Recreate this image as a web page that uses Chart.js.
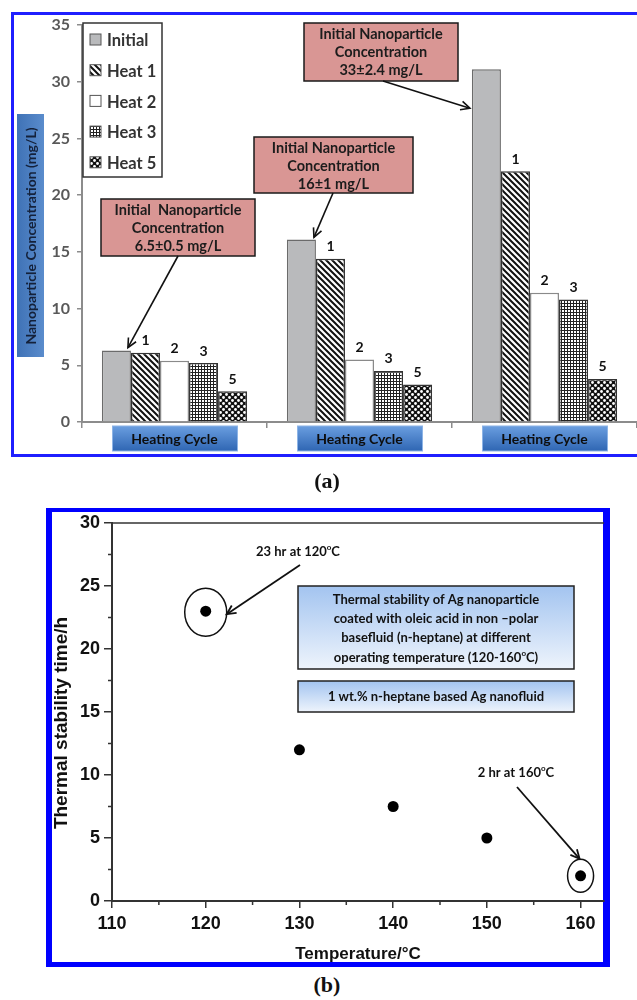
<!DOCTYPE html>
<html>
<head>
<meta charset="utf-8">
<script src="https://cdn.jsdelivr.net/npm/chart.js@4.4.1/dist/chart.umd.min.js"></script>
<style>
  body { margin: 0; background: #fff; }
  #wrap { position: relative; width: 637px; height: 1000px; overflow: hidden; }
  canvas { position: absolute; left: 0; }
  .frameA { position: absolute; left: 11px; top: 12px; width: 700px; height: 445px; box-sizing: border-box;
            border: 3px solid #1f1fff; border-right: none; }
  .frameB { position: absolute; left: 46px; top: 508px; width: 564px; height: 459px; box-sizing: border-box;
            border-style: solid; border-color: #0000ff; border-width: 4px 7px 5px 6px; }
  .cap { position: absolute; left: 277px; width: 100px; text-align: center; line-height: 26px;
         font: bold 22px "Liberation Serif", serif; color: #111; }
</style>
</head>
<body>
<div id="wrap">
  <div class="frameA"></div>
  <canvas id="chartA" width="637" height="470" style="top:0"></canvas>
  <div class="cap" style="top:468px">(a)</div>
  <div class="frameB"></div>
  <canvas id="chartB" width="637" height="470" style="top:500px"></canvas>
  <div class="cap" style="top:972px">(b)</div>
</div>
<script>
// ---- data (a) ----
const groupLabels = ['Heating Cycle', 'Heating Cycle', 'Heating Cycle'];
const seriesNames = ['Initial', 'Heat 1', 'Heat 2', 'Heat 3', 'Heat 5'];
const initialConc = [6.3, 16.1, 31.1];
const heat1Conc = [6.1, 14.4, 22.1];
const heat2Conc = [5.4, 5.5, 11.4];
const heat3Conc = [5.2, 4.5, 10.8];
const heat5Conc = [2.7, 3.3, 3.8];
const cycleTags = ['', '1', '2', '3', '5'];
const noteLines = [
  ['Initial  Nanoparticle', 'Concentration', '6.5±0.5 mg/L'],
  ['Initial Nanoparticle', 'Concentration', '16±1 mg/L'],
  ['Initial Nanoparticle', 'Concentration', '33±2.4 mg/L']
];
const yTitleA = 'Nanoparticle Concentration (mg/L)';

// ---- data (b) ----
const temperatures = [120, 130, 140, 150, 160];
const stabilityHours = [23, 12, 7.5, 5, 2];
const xTitleB = 'Temperature/°C';
const yTitleB = 'Thermal stability time/h';
const calloutB = ['23 hr at 120°C', '2 hr at 160°C'];
const infoLines = ['Thermal stability of Ag nanoparticle', 'coated with oleic acid in non –polar',
                   'basefluid (n-heptane) at different', 'operating temperature (120-160°C)'];
const infoNote = '1 wt.% n-heptane based Ag nanofluid';

Chart.defaults.animation = false;
Chart.defaults.responsive = false;
Chart.defaults.devicePixelRatio = 1;

// hatch fills
function makePattern(kind) {
  const c = document.createElement('canvas');
  const g = c.getContext('2d');
  if (kind === 'stripe') {
    c.width = c.height = 6;
    g.fillStyle = '#fff'; g.fillRect(0, 0, 6, 6);
    g.strokeStyle = '#111'; g.lineWidth = 2;
    g.beginPath();
    g.moveTo(-3, -3); g.lineTo(9, 9);
    g.moveTo(-3, 3); g.lineTo(3, 9);
    g.moveTo(3, -3); g.lineTo(9, 3);
    g.stroke();
  } else if (kind === 'grid') {
    c.width = c.height = 3;
    g.fillStyle = '#fff'; g.fillRect(0, 0, 3, 3);
    g.fillStyle = '#222'; g.fillRect(0, 0, 3, 1); g.fillRect(0, 0, 1, 3);
  } else {
    c.width = c.height = 6;
    g.fillStyle = '#111'; g.fillRect(0, 0, 6, 6);
    g.fillStyle = '#fff';
    g.beginPath(); g.arc(1.5, 1.5, 1.4, 0, Math.PI * 2); g.fill();
    g.beginPath(); g.arc(4.5, 4.5, 1.4, 0, Math.PI * 2); g.fill();
  }
  return g.createPattern(c, 'repeat');
}

const fills = ['#b9babc', makePattern('stripe'), '#ffffff', makePattern('grid'), makePattern('dots')];
const edges = ['#6b6b6b', '#333', '#8a8a8a', '#333', '#333'];

function arrow(ctx, x1, y1, x2, y2) {
  const a = Math.atan2(y2 - y1, x2 - x1), h = 10;
  ctx.beginPath(); ctx.moveTo(x1, y1); ctx.lineTo(x2, y2); ctx.stroke();
  ctx.beginPath();
  ctx.moveTo(x2 - h * Math.cos(a - 0.45), y2 - h * Math.sin(a - 0.45));
  ctx.lineTo(x2, y2);
  ctx.lineTo(x2 - h * Math.cos(a + 0.45), y2 - h * Math.sin(a + 0.45));
  ctx.stroke();
}

// text with the degree sign drawn as a raised small "o"
function richText(ctx, text, cx, cy, size, family) {
  const parts = text.split('°');
  const main = 'bold ' + size + 'px ' + family, sup = 'bold ' + Math.round(size * 0.62) + 'px ' + family;
  ctx.font = main;
  const w = parts.map(p => ctx.measureText(p).width);
  ctx.font = sup;
  const ow = ctx.measureText('o').width;
  let x = cx - (w.reduce((a, b) => a + b, 0) + ow * (parts.length - 1)) / 2;
  ctx.textAlign = 'left'; ctx.textBaseline = 'middle';
  parts.forEach((p, i) => {
    ctx.font = main; ctx.fillText(p, x, cy); x += w[i];
    if (i < parts.length - 1) { ctx.font = sup; ctx.fillText('o', x, cy - size * 0.32); x += ow; }
  });
}

const decorA = {
  id: 'decorA',
  afterDraw(chart) {
    const ctx = chart.ctx, xs = chart.scales.x;
    ctx.save();
    // y title box
    let g = ctx.createLinearGradient(17, 0, 44, 0);
    g.addColorStop(0, '#3f72b6'); g.addColorStop(1, '#5a8ccc');
    ctx.fillStyle = g; ctx.fillRect(17, 114, 27, 243);
    ctx.save();
    ctx.translate(31, 236); ctx.rotate(-Math.PI / 2);
    ctx.fillStyle = '#14213a'; ctx.font = 'bold 14px Lato';
    ctx.textAlign = 'center'; ctx.textBaseline = 'middle';
    ctx.fillText(yTitleA, 0, 0);
    ctx.restore();

    // category boxes
    groupLabels.forEach((lab, i) => {
      const cx = xs.getPixelForValue(i);
      const gg = ctx.createLinearGradient(0, 426, 0, 451);
      gg.addColorStop(0, '#6a9ee0'); gg.addColorStop(1, '#2f66b3');
      ctx.fillStyle = gg; ctx.fillRect(cx - 62, 426, 125, 25);
      ctx.strokeStyle = '#8db4e6'; ctx.lineWidth = 1; ctx.strokeRect(cx - 62, 426, 125, 25);
      ctx.fillStyle = '#0d0d0d'; ctx.font = 'bold 14px Lato';
      ctx.textAlign = 'center'; ctx.textBaseline = 'middle';
      ctx.fillText(lab, cx, 439.5);
    });

    // bar labels
    ctx.fillStyle = '#111'; ctx.font = 'bold 14px Lato';
    ctx.textAlign = 'center'; ctx.textBaseline = 'bottom';
    for (let d = 1; d < seriesNames.length; d++) {
      chart.getDatasetMeta(d).data.forEach(b => ctx.fillText(cycleTags[d], b.x, b.y - 5));
    }

    // legend
    ctx.fillStyle = '#fff'; ctx.fillRect(83, 23, 79, 154);
    ctx.strokeStyle = '#333'; ctx.lineWidth = 1.5; ctx.strokeRect(83, 23, 79, 154);
    seriesNames.forEach((n, i) => {
      const cy = 40 + i * 30.7;
      ctx.fillStyle = fills[i]; ctx.fillRect(90, cy - 6, 11, 11);
      ctx.strokeStyle = '#555'; ctx.lineWidth = 1; ctx.strokeRect(90, cy - 6, 11, 11);
      ctx.fillStyle = '#333'; ctx.font = 'bold 16.5px Lato';
      ctx.textAlign = 'left'; ctx.textBaseline = 'middle';
      ctx.fillText(n, 107, cy + 1);
    });

    // initial concentration call-outs
    const bars = chart.getDatasetMeta(0).data;
    const boxes = [
      { x: 101, y: 199, w: 154, h: 57, from: [178, 256], tip: b => [b.x + b.width / 2 - 3, b.y - 3] },
      { x: 254, y: 137, w: 159, h: 56, from: [333, 193], tip: b => [b.x + b.width / 2 - 2, b.y - 2] },
      { x: 304, y: 23, w: 154, h: 58, from: [383, 81], tip: b => [b.x - b.width / 2 - 2, b.y + 39] }
    ];
    boxes.forEach((bx, i) => {
      ctx.fillStyle = '#d99694'; ctx.fillRect(bx.x, bx.y, bx.w, bx.h);
      ctx.strokeStyle = '#1a1a1a'; ctx.lineWidth = 1.5; ctx.strokeRect(bx.x, bx.y, bx.w, bx.h);
      ctx.fillStyle = '#1c1c1c'; ctx.font = 'bold 14.5px Lato';
      ctx.textAlign = 'center'; ctx.textBaseline = 'middle';
      noteLines[i].forEach((t, k) => ctx.fillText(t, bx.x + bx.w / 2, bx.y + 11 + k * 18.3));
      const [tx, ty] = bx.tip(bars[i]);
      ctx.strokeStyle = '#111'; ctx.lineWidth = 1.6;
      arrow(ctx, bx.from[0], bx.from[1], tx, ty);
    });
    ctx.restore();
  }
};

new Chart(document.getElementById('chartA'), {
  type: 'bar',
  data: {
    labels: groupLabels,
    datasets: [initialConc, heat1Conc, heat2Conc, heat3Conc, heat5Conc].map((vals, i) => ({
      label: seriesNames[i],
      data: vals,
      backgroundColor: fills[i],
      borderColor: edges[i],
      borderWidth: 1.5,
      categoryPercentage: 0.785,
      barPercentage: 1.0
    }))
  },
  options: {
    layout: { padding: { top: 25, left: 0, right: 0, bottom: 0 } },
    plugins: { legend: { display: false }, tooltip: { enabled: false } },
    scales: {
      x: {
        ticks: { display: false },
        grid: { drawOnChartArea: false, tickLength: 6, color: '#8c8c8c', lineWidth: 1.5 },
        border: { color: '#8c8c8c', width: 2 },
        afterFit: s => { s.height = 48; }
      },
      y: {
        min: 0, max: 35,
        ticks: { stepSize: 5, padding: 7, color: '#595959', font: { family: 'Lato', weight: 'bold', size: 16 } },
        grid: { drawOnChartArea: false, tickLength: 5, color: '#8c8c8c', lineWidth: 1.5 },
        border: { color: '#8c8c8c', width: 2 },
        afterFit: s => { s.width = 82; }
      }
    }
  },
  plugins: [decorA]
});

const decorB = {
  id: 'decorB',
  afterDraw(chart) {
    const ctx = chart.ctx, xs = chart.scales.x, ys = chart.scales.y, area = chart.chartArea;
    ctx.save();
    ctx.strokeStyle = '#333'; ctx.lineWidth = 1.5;
    // top frame line
    ctx.beginPath(); ctx.moveTo(area.left, area.top); ctx.lineTo(area.right, area.top); ctx.stroke();
    // minor ticks
    ctx.beginPath();
    for (let v = 2.5; v < ys.max; v += 5) {
      const py = ys.getPixelForValue(v); ctx.moveTo(area.left - 4, py); ctx.lineTo(area.left, py);
    }
    for (let v = 115; v < xs.max; v += 10) {
      const px = xs.getPixelForValue(v); ctx.moveTo(px, area.bottom); ctx.lineTo(px, area.bottom + 4);
    }
    ctx.stroke();

    // y title, a little below the middle of the axis
    ctx.save();
    ctx.translate(62, area.top + 200); ctx.rotate(-Math.PI / 2);
    ctx.fillStyle = '#111'; ctx.font = 'bold 19px "Liberation Sans"';
    ctx.textAlign = 'center'; ctx.textBaseline = 'middle';
    ctx.fillText(yTitleB, 0, 0);
    ctx.restore();

    const pts = chart.getDatasetMeta(0).data;
    const first = pts[0], last = pts[pts.length - 1];
    ctx.strokeStyle = '#111'; ctx.lineWidth = 1.5;
    ctx.beginPath(); ctx.ellipse(first.x, first.y + 1, 21, 24, 0, 0, Math.PI * 2); ctx.stroke();
    ctx.beginPath(); ctx.ellipse(last.x, last.y, 13, 16.5, 0, 0, Math.PI * 2); ctx.stroke();

    ctx.fillStyle = '#111';
    richText(ctx, calloutB[0], 298, 52, 13, 'Lato');
    richText(ctx, calloutB[1], 516, 273, 13, 'Lato');
    ctx.lineWidth = 1.8;
    arrow(ctx, 300, 65, first.x + 21, first.y + 3);
    arrow(ctx, 517, 287, last.x - 1, last.y - 17);

    // info boxes
    const drawBox = (top, h) => {
      const g = ctx.createLinearGradient(0, top, 0, top + h);
      g.addColorStop(0, '#a3c4f0'); g.addColorStop(1, '#eef4fc');
      ctx.fillStyle = g; ctx.fillRect(298, top, 276, h);
      ctx.strokeStyle = '#222'; ctx.lineWidth = 1.5; ctx.strokeRect(298, top, 276, h);
    };
    drawBox(86, 83);
    drawBox(181, 31);
    ctx.fillStyle = '#111';
    infoLines.forEach((t, k) => richText(ctx, t, 436, 99.5 + k * 19.3, 13, 'Lato'));
    richText(ctx, infoNote, 436, 197, 13, 'Lato');
    ctx.restore();
  }
};

const tickFont = { family: 'Liberation Sans', weight: 'bold', size: 18 };
new Chart(document.getElementById('chartB'), {
  type: 'scatter',
  data: {
    datasets: [{
      data: temperatures.map((t, i) => ({ x: t, y: stabilityHours[i] })),
      pointRadius: 5.5,
      pointBorderWidth: 0,
      backgroundColor: '#000',
      borderColor: '#000'
    }]
  },
  options: {
    layout: { padding: { top: 23, left: 0, right: 33, bottom: 0 } },
    plugins: { legend: { display: false }, tooltip: { enabled: false } },
    scales: {
      x: {
        type: 'linear', min: 110, max: 162.5,
        ticks: { stepSize: 10, includeBounds: false, padding: 5, color: '#111', font: tickFont },
        grid: { drawOnChartArea: false, tickLength: 7, color: '#333', lineWidth: 1.5 },
        border: { color: '#333', width: 2 },
        title: { display: true, text: xTitleB, color: '#111', padding: { top: 0, bottom: 5 },
                 font: { family: 'Liberation Sans', weight: 'bold', size: 17 } },
        afterFit: s => { s.height = 69; }
      },
      y: {
        min: 0, max: 30,
        ticks: { stepSize: 5, padding: 4, color: '#111', font: tickFont },
        grid: { drawOnChartArea: false, tickLength: 8, color: '#333', lineWidth: 1.5 },
        border: { color: '#333', width: 2 },
        afterFit: s => { s.width = 112; }
      }
    }
  },
  plugins: [decorB]
});
</script>
</body>
</html>
